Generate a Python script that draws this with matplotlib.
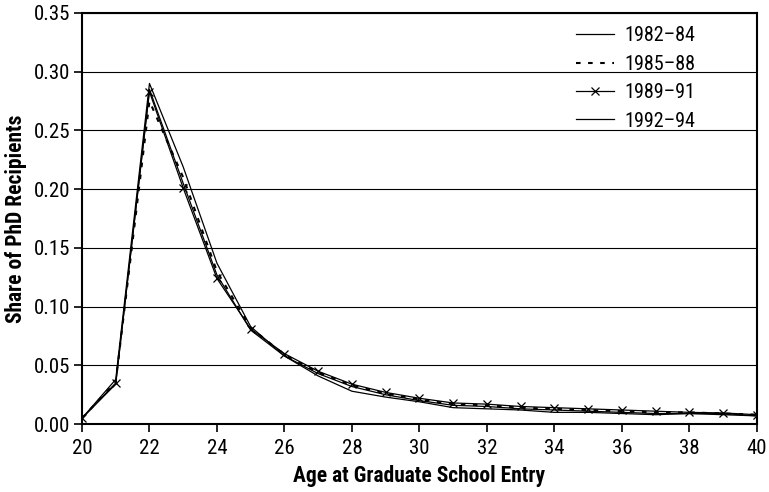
import matplotlib
matplotlib.use("Agg")
import matplotlib.pyplot as plt

plt.rcParams['font.family'] = ['Roboto Condensed', 'DejaVu Sans']

ages = list(range(20, 41))
s1982 = [0.005, 0.038, 0.290, 0.219, 0.137, 0.083, 0.058, 0.041, 0.028, 0.023, 0.019,
         0.014, 0.013, 0.012, 0.010, 0.010, 0.009, 0.008, 0.009, 0.009, 0.007]
s1985 = [0.005, 0.036, 0.275, 0.210, 0.130, 0.082, 0.059, 0.044, 0.033, 0.026, 0.021,
         0.017, 0.016, 0.014, 0.013, 0.012, 0.011, 0.010, 0.010, 0.009, 0.008]
s1989 = [0.005, 0.035, 0.283, 0.201, 0.124, 0.081, 0.060, 0.045, 0.034, 0.027, 0.022,
         0.018, 0.017, 0.015, 0.014, 0.013, 0.012, 0.011, 0.010, 0.0095, 0.008]
s1992 = [0.005, 0.034, 0.285, 0.205, 0.127, 0.080, 0.058, 0.043, 0.032, 0.025, 0.020,
         0.016, 0.015, 0.013, 0.012, 0.011, 0.010, 0.009, 0.009, 0.008, 0.007]
labels = ['1982\u201384', '1985\u201388', '1989\u201391', '1992\u201394']
xticks = list(range(20, 41, 2))
yticks = [0.00, 0.05, 0.10, 0.15, 0.20, 0.25, 0.30, 0.35]

fig = plt.figure(figsize=(7.69, 4.92), dpi=100)
ax = fig.add_axes([0.1066, 0.138, 0.8775, 0.8356])

ax.plot(ages, s1982, color='black', lw=0.9, label=labels[0])
ax.plot(ages, s1985, color='black', lw=1.5, ls=(0, (2.2, 3.6)), label=labels[1])
ax.plot(ages, s1989, color='black', lw=0.9, marker='x', ms=5.5, mew=0.9, label=labels[2])
ax.plot(ages, s1992, color='black', lw=0.9, label=labels[3])

ax.set_xlim(20, 40)
ax.set_ylim(0, 0.35)
ax.set_xticks(xticks)
ax.set_xticklabels([str(t) for t in xticks])
ax.set_yticks(yticks)
ax.set_yticklabels([f'{t:.2f}' for t in yticks])
ax.yaxis.grid(True, color='black', lw=0.8)
ax.set_axisbelow(True)
for sp in ax.spines.values():
    sp.set_linewidth(1.5)
ax.tick_params(axis='both', direction='out', length=5.5, width=1.2, labelsize=15)
ax.tick_params(axis='x', pad=5)
ax.tick_params(axis='y', pad=3)

ax.set_xlabel('Age at Graduate School Entry', fontsize=15.5, fontweight='bold', labelpad=5)
ax.set_ylabel('Share of PhD Recipients', fontsize=15.5, fontweight='bold', labelpad=5)

leg = ax.legend(loc='upper right', frameon=False, fontsize=14.5, handlelength=1.9,
                handletextpad=0.5, labelspacing=0.47, borderaxespad=0.0, borderpad=0.0,
                bbox_to_anchor=(0.909, 0.968))

fig.savefig('out.png', dpi=100)
